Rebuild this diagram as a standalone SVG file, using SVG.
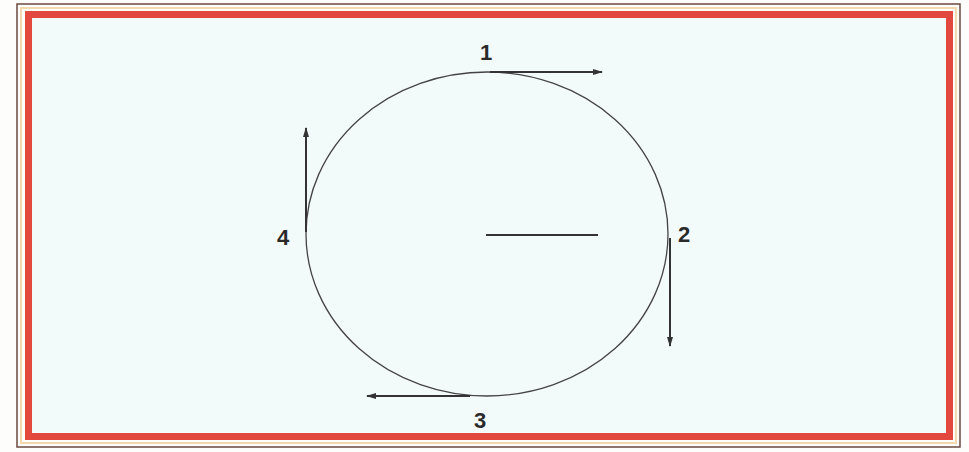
<svg xmlns="http://www.w3.org/2000/svg" width="969" height="452" viewBox="0 0 969 452">
<defs>
<marker id="ah" viewBox="0 0 10 6" refX="9" refY="3" markerWidth="10" markerHeight="6" markerUnits="userSpaceOnUse" orient="auto">
<path d="M0,0 L10,3 L0,6 Z" fill="#333"/>
</marker>
</defs>
<style>
.vec{stroke:#333;stroke-width:2;fill:none;marker-end:url(#ah)}
.lbl{font-family:"Liberation Sans",Arial,sans-serif;font-weight:bold;font-size:22px;fill:#2a2a2a}
</style>
<rect x="0" y="0" width="969" height="452" fill="#fdfdfb"/>
<g id="frame">
<rect x="17" y="4" width="943" height="443" fill="none" stroke="#6a4a40" stroke-width="1.5"/>
<rect x="21" y="8" width="935" height="435" fill="none" stroke="#f4d8b0" stroke-width="2"/>
<rect x="28.5" y="14.5" width="921" height="422" fill="#f3fafa" stroke="#e2483e" stroke-width="7"/>
</g>
<g id="circle">
<ellipse cx="487" cy="234" rx="181" ry="162" fill="none" stroke="#444" stroke-width="1.3"/>
</g>
<g id="connectors">
<line class="vec" x1="490" y1="72" x2="602" y2="72"/>
<line class="vec" x1="670" y1="238" x2="670" y2="346"/>
<line class="vec" x1="470" y1="396" x2="367" y2="396"/>
<line class="vec" x1="306" y1="232" x2="306" y2="128"/>
<line x1="486" y1="235" x2="598" y2="235" stroke="#333" stroke-width="2"/>
</g>
<g id="label1"><text class="lbl" x="480" y="60">1</text></g>
<g id="label2"><text class="lbl" x="678" y="242">2</text></g>
<g id="label3"><text class="lbl" x="474" y="428">3</text></g>
<g id="label4"><text class="lbl" x="277" y="245">4</text></g>
</svg>
